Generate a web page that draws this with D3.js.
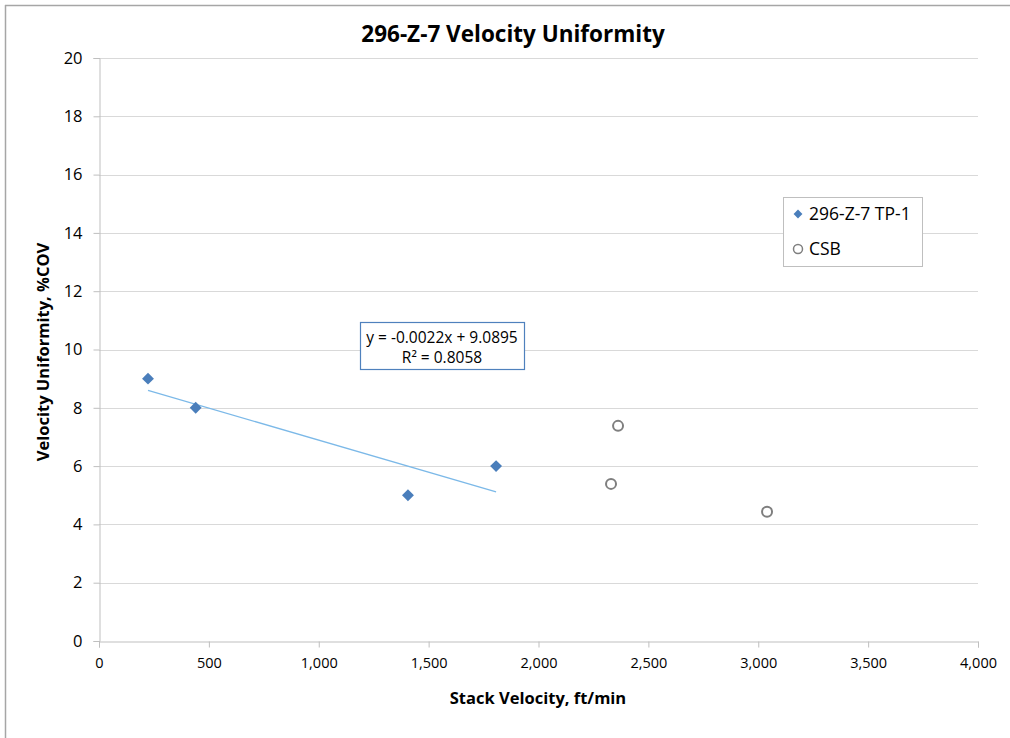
<!DOCTYPE html>
<html>
<head>
<meta charset="utf-8">
<script src="https://cdn.jsdelivr.net/npm/d3@7"></script>
<style>
  body { margin: 0; background: #fff; }
  text { font-family: "Open Sans", sans-serif; fill: #000; }
</style>
</head>
<body>
<svg id="chart" width="1010" height="738"></svg>
<script>
// data
var tpVelocity = [223, 440, 1406, 1807];
var tpCov = [9, 8, 5, 6];
var csbVelocity = [2362, 2330, 3040];
var csbCov = [7.38, 5.39, 4.43];
var trendSlope = -0.0022, trendIntercept = 9.0895;
var xTicks = [0, 500, 1000, 1500, 2000, 2500, 3000, 3500, 4000];
var yTicks = [0, 2, 4, 6, 8, 10, 12, 14, 16, 18, 20];
var seriesNames = ["296-Z-7 TP-1", "CSB"];

var svg = d3.select("#chart");
var plotLeft = 99, plotRight = 978, plotTop = 58, plotBottom = 641;

// outer frame (left + top edge of the Excel chart area)
svg.append("line").attr("x1", 5.5).attr("x2", 5.5).attr("y1", 5).attr("y2", 738)
    .attr("stroke", "#a6a6a6").attr("stroke-width", 1.5);
svg.append("line").attr("x1", 5).attr("x2", 1010).attr("y1", 5.5).attr("y2", 5.5)
    .attr("stroke", "#a6a6a6").attr("stroke-width", 1.5);

var x = d3.scaleLinear().domain([0, 4000]).range([plotLeft, plotRight]);
var y = d3.scaleLinear().domain([0, 20]).range([plotBottom, plotTop]);

// gridlines
svg.append("g").selectAll("line")
    .data(yTicks.filter(function(d) { return d > 0; }))
    .enter().append("line")
    .attr("x1", plotLeft).attr("x2", plotRight)
    .attr("y1", function(d) { return Math.round(y(d)) + 0.5; })
    .attr("y2", function(d) { return Math.round(y(d)) + 0.5; })
    .attr("stroke", "#d9d9d9").attr("stroke-width", 1);

// axes
var xAxis = svg.append("g").attr("transform", "translate(0," + (plotBottom + 0.5) + ")")
    .call(d3.axisBottom(x).tickValues(xTicks).tickSize(6).tickPadding(10)
        .tickFormat(d3.format(",")));
var yAxis = svg.append("g").attr("transform", "translate(" + (plotLeft + 0.5) + ",0)")
    .call(d3.axisLeft(y).tickValues(yTicks).tickSize(6).tickPadding(11));
[xAxis, yAxis].forEach(function(a) {
    a.select(".domain").attr("stroke", "#bfbfbf");
    a.selectAll(".tick line").attr("stroke", "#bfbfbf");
    a.selectAll(".tick text").style("font-size", "14.5px").attr("fill", "#000");
});
yAxis.selectAll(".tick text").style("font-size", "16.5px");

// trend line
var tx0 = d3.min(tpVelocity), tx1 = d3.max(tpVelocity);
svg.append("line")
    .attr("x1", x(tx0)).attr("y1", y(trendSlope * tx0 + trendIntercept))
    .attr("x2", x(tx1)).attr("y2", y(trendSlope * tx1 + trendIntercept))
    .attr("stroke", "#7cb9e8").attr("stroke-width", 1.3);

// TP-1 diamonds
var diamond = d3.symbol().type(d3.symbolDiamond2).size(90);
svg.append("g").selectAll("path")
    .data(tpVelocity)
    .enter().append("path")
    .attr("d", diamond)
    .attr("transform", function(d, i) { return "translate(" + x(d) + "," + y(tpCov[i]) + ")"; })
    .attr("fill", "#4a7ebb");

// CSB circles
svg.append("g").selectAll("circle")
    .data(csbVelocity)
    .enter().append("circle")
    .attr("cx", function(d) { return x(d); })
    .attr("cy", function(d, i) { return y(csbCov[i]); })
    .attr("r", 5)
    .attr("fill", "#fff").attr("stroke", "#7f7f7f").attr("stroke-width", 2);

// equation label
svg.append("rect").attr("x", 360.5).attr("y", 322.5).attr("width", 164).attr("height", 47)
    .attr("fill", "#fff").attr("stroke", "#4f81bd").attr("stroke-width", 1.2);
svg.append("text").attr("x", 442).attr("y", 343).attr("text-anchor", "middle")
    .style("font-size", "15.5px").text("y = -0.0022x + 9.0895");
svg.append("text").attr("x", 442).attr("y", 363).attr("text-anchor", "middle")
    .style("font-size", "15.5px").text("R\u00b2 = 0.8058");

// legend
svg.append("rect").attr("x", 783.5).attr("y", 197.5).attr("width", 139).attr("height", 69)
    .attr("fill", "#fff").attr("stroke", "#bfbfbf");
svg.append("path").attr("d", d3.symbol().type(d3.symbolDiamond2).size(50))
    .attr("transform", "translate(798,214)").attr("fill", "#4a7ebb");
svg.append("circle").attr("cx", 798).attr("cy", 249).attr("r", 4.5)
    .attr("fill", "#fff").attr("stroke", "#7f7f7f").attr("stroke-width", 1.5);
svg.selectAll(".legtext").data(seriesNames).enter().append("text")
    .attr("x", 809).attr("y", function(d, i) { return 220 + i * 35; })
    .style("font-size", "17.5px").text(function(d) { return d; });

// titles
svg.append("text").attr("x", 513).attr("y", 42).attr("text-anchor", "middle")
    .style("font-size", "22.5px").style("font-weight", "bold").text("296-Z-7 Velocity Uniformity");
svg.append("text").attr("x", 538).attr("y", 704).attr("text-anchor", "middle")
    .style("font-size", "16.5px").style("font-weight", "bold").text("Stack Velocity, ft/min");
svg.append("text").attr("transform", "translate(49,352) rotate(-90)").attr("text-anchor", "middle")
    .style("font-size", "16.5px").style("font-weight", "bold").text("Velocity Uniformity, %COV");
</script>
</body>
</html>
